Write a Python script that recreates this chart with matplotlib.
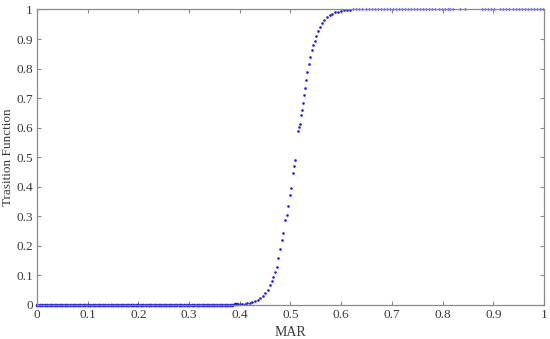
import matplotlib
matplotlib.use("Agg")
import matplotlib.pyplot as plt

# flat lower segment of the transition function (MAR below ~0.4)
low_x = [0.000, 0.005, 0.010, 0.015, 0.020, 0.025, 0.030, 0.035, 0.040, 0.045,
         0.050, 0.055, 0.060, 0.065, 0.070, 0.075, 0.080, 0.085, 0.090, 0.095,
         0.100, 0.105, 0.110, 0.115, 0.120, 0.125, 0.130, 0.135, 0.140, 0.145,
         0.150, 0.155, 0.160, 0.165, 0.170, 0.175, 0.180, 0.185, 0.190, 0.195,
         0.200, 0.205, 0.210, 0.215, 0.220, 0.225, 0.230, 0.235, 0.240, 0.245,
         0.250, 0.255, 0.260, 0.265, 0.270, 0.275, 0.280, 0.285, 0.290, 0.295,
         0.300, 0.305, 0.310, 0.315, 0.320, 0.325, 0.330, 0.335, 0.340, 0.345,
         0.350, 0.355, 0.360, 0.365, 0.370, 0.375, 0.380, 0.385, 0.390, 0.395]
low_y = [0.000, 0.000, 0.000, 0.000, 0.000, 0.000, 0.000, 0.000, 0.000, 0.000,
         0.000, 0.000, 0.000, 0.000, 0.000, 0.000, 0.000, 0.000, 0.000, 0.000,
         0.000, 0.000, 0.000, 0.000, 0.000, 0.000, 0.000, 0.000, 0.000, 0.000,
         0.000, 0.000, 0.000, 0.000, 0.000, 0.000, 0.000, 0.000, 0.000, 0.000,
         0.000, 0.000, 0.000, 0.000, 0.000, 0.000, 0.000, 0.000, 0.000, 0.000,
         0.000, 0.000, 0.000, 0.000, 0.000, 0.000, 0.000, 0.000, 0.000, 0.000,
         0.000, 0.000, 0.000, 0.000, 0.000, 0.000, 0.000, 0.000, 0.000, 0.000,
         0.000, 0.000, 0.000, 0.000, 0.000, 0.001, 0.001, 0.001, 0.002, 0.002]

# rising part
mid_x = [0.400, 0.405, 0.410, 0.415, 0.420, 0.425, 0.430, 0.435, 0.440, 0.445,
         0.450, 0.455, 0.460, 0.463, 0.466, 0.470, 0.473, 0.476, 0.479, 0.483,
         0.486, 0.489, 0.494, 0.496, 0.500, 0.502, 0.504, 0.507, 0.508, 0.515,
         0.517, 0.519, 0.521, 0.522, 0.524, 0.526, 0.528, 0.530, 0.533, 0.536,
         0.539, 0.542, 0.545, 0.548, 0.551, 0.555, 0.559, 0.563, 0.567, 0.572,
         0.577, 0.582, 0.588, 0.594, 0.600, 0.606, 0.612, 0.618]
mid_y = [0.003, 0.004, 0.005, 0.006, 0.008, 0.010, 0.013, 0.017, 0.023, 0.030,
         0.040, 0.052, 0.068, 0.080, 0.096, 0.112, 0.130, 0.158, 0.188, 0.220,
         0.242, 0.287, 0.305, 0.335, 0.373, 0.395, 0.445, 0.470, 0.492, 0.589,
         0.603, 0.614, 0.642, 0.659, 0.682, 0.710, 0.735, 0.760, 0.790, 0.815,
         0.840, 0.862, 0.880, 0.895, 0.910, 0.927, 0.942, 0.955, 0.965, 0.974,
         0.981, 0.986, 0.990, 0.993, 0.995, 0.997, 0.998, 0.999]

# saturated upper segment
high_x = [0.624, 0.630, 0.636, 0.642, 0.648, 0.654, 0.660, 0.666, 0.672, 0.678,
          0.684, 0.690, 0.696, 0.702, 0.708, 0.714, 0.720, 0.726, 0.732, 0.738,
          0.744, 0.750, 0.756, 0.762, 0.768, 0.774, 0.780, 0.786, 0.792, 0.798,
          0.804, 0.810, 0.815, 0.820, 0.834, 0.844, 0.878, 0.884, 0.890, 0.896,
          0.902, 0.914, 0.920, 0.926, 0.932, 0.938, 0.944, 0.950, 0.956, 0.962,
          0.968, 0.974, 0.980, 0.986, 0.992, 0.998]
high_y = [1.0] * len(high_x)

GRAY = "#8a8a8a"
TXT = "#3a3a3a"
DOT = "#1a1aff"

plt.rcParams["font.family"] = ["Liberation Serif", "DejaVu Serif"]

fig = plt.figure(figsize=(5.5, 3.39), dpi=100)
ax = fig.add_axes([0.0673, 0.1003, 0.9217, 0.8717])

# dense bottom run reads as a solid line in the original
ax.plot(low_x, low_y, linestyle="none", marker="o", ms=2.6, mew=0,
        color=DOT, clip_on=False)
ax.plot(mid_x, mid_y, linestyle="none", marker="o", ms=1.9, mew=0,
        color=DOT, clip_on=False)
ax.plot(high_x, high_y, linestyle="none", marker="o", ms=1.6, mew=0,
        color=DOT, clip_on=False)

ticks = [0, 0.1, 0.2, 0.3, 0.4, 0.5, 0.6, 0.7, 0.8, 0.9, 1]
labels = ["0", "0.1", "0.2", "0.3", "0.4", "0.5", "0.6", "0.7", "0.8", "0.9", "1"]
ax.set_xlim(0, 1)
ax.set_ylim(0, 1)
ax.set_xticks(ticks)
ax.set_xticklabels(labels)
ax.set_yticks(ticks)
ax.set_yticklabels(labels)
ax.tick_params(direction="in", top=True, right=True, length=3, width=0.8,
               color=GRAY, labelcolor=TXT, labelsize=9.5, pad=3)
for sp in ax.spines.values():
    sp.set_color(GRAY)
    sp.set_linewidth(0.9)

ax.set_xlabel("MAR", fontsize=10, color=TXT)
ax.set_ylabel("Trasition Function", fontsize=9.5, color=TXT)
ax.xaxis.set_label_coords(0.5, -0.072)
ax.yaxis.set_label_coords(-0.046, 0.5)

fig.savefig("out.png", dpi=100)
